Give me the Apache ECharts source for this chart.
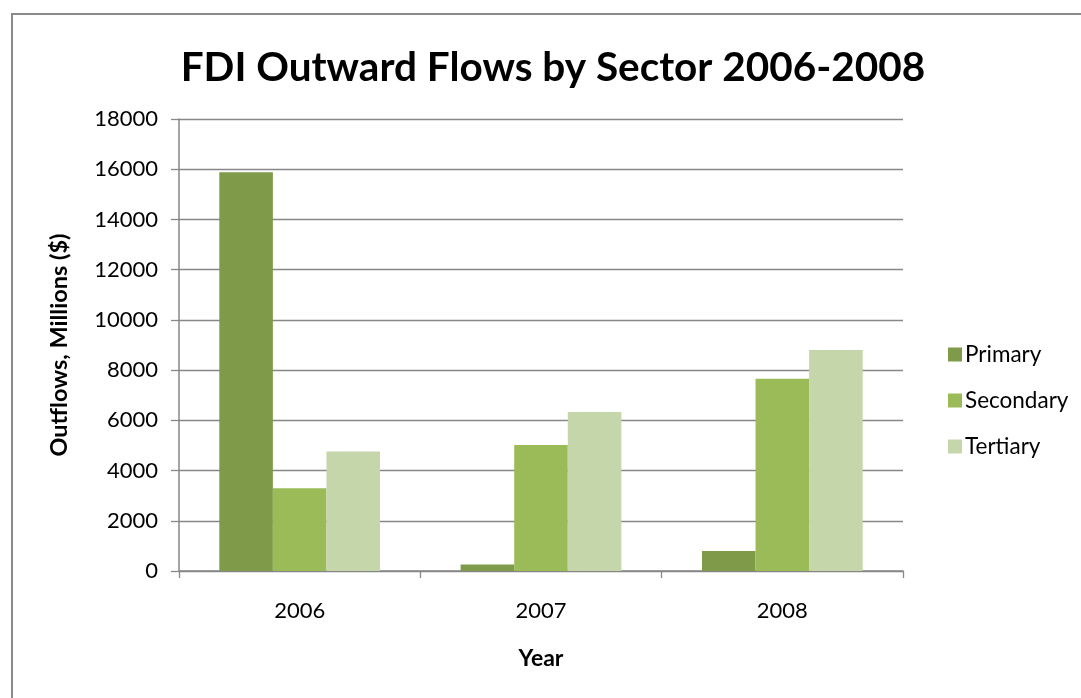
<!DOCTYPE html>
<html>
<head>
<meta charset="utf-8">
<script src="https://cdn.jsdelivr.net/npm/echarts@6/dist/echarts.min.js"></script>
<style>
html,body{margin:0;padding:0;width:1081px;height:698px;overflow:hidden;background:#fff;}
#frame{position:absolute;left:11px;top:13px;width:1200px;height:800px;border:2px solid #8a8a8a;box-sizing:border-box;}
#chart{position:absolute;left:0;top:0;width:1081px;height:698px;}
</style>
</head>
<body>
<div id="frame"></div>
<div id="chart"></div>
<script>
const categories = ['2006', '2007', '2008'];
const primary = [15880, 260, 800];
const secondary = [3300, 5020, 7660];
const tertiary = [4760, 6330, 8800];
const yTicks = { min: 0, max: 18000, interval: 2000 };
const seriesNames = ['Primary', 'Secondary', 'Tertiary'];
const colors = ['#7F9A48', '#9BBB59', '#C6D6AB'];

const font = 'Lato';
const chart = echarts.init(document.getElementById('chart'));
const seriesData = [primary, secondary, tertiary];
chart.setOption({
  backgroundColor: 'transparent',
  animation: false,
  title: {
    text: 'FDI Outward Flows by Sector 2006-2008',
    left: 548, top: 42, textAlign: 'center',
    textStyle: { fontFamily: font, fontWeight: 'bold', fontSize: 40.5, color: '#000' }
  },
  legend: {
    orient: 'vertical', left: 943, top: 338,
    itemWidth: 14, itemHeight: 14, itemGap: 23,
    icon: 'rect',
    textStyle: { fontFamily: font, fontSize: 22.5, color: '#000', padding: [0, 0, 0, -2] },
    data: seriesNames
  },
  grid: { left: 179, right: 178, top: 119, bottom: 127, containLabel: false },
  xAxis: {
    type: 'category', data: categories,
    name: 'Year', nameLocation: 'middle', nameGap: 76,
    nameTextStyle: { fontFamily: font, fontWeight: 'bold', fontSize: 23, color: '#000' },
    axisLine: { lineStyle: { color: '#878787', width: 1.5 } },
    axisTick: { show: true, length: 7, lineStyle: { color: '#878787', width: 1.3 } },
    axisLabel: { fontFamily: font, fontSize: 22, color: '#000', margin: 29 }
  },
  yAxis: {
    type: 'value', min: yTicks.min, max: yTicks.max, interval: yTicks.interval,
    name: 'Outflows, Millions ($)', nameLocation: 'middle', nameGap: 108, nameRotate: 90,
    nameTextStyle: { fontFamily: font, fontWeight: 'bold', fontSize: 23.5, color: '#000' },
    axisLine: { show: true, lineStyle: { color: '#878787', width: 1.5 } },
    axisTick: { show: true, length: 8, lineStyle: { color: '#878787', width: 1.3 } },
    axisLabel: { fontFamily: font, fontSize: 22, color: '#000', margin: 21, formatter: v => String(v) },
    splitLine: { lineStyle: { color: '#878787', width: 1.3 } }
  },
  series: seriesNames.map((n, i) => ({
    name: n, type: 'bar', data: seriesData[i],
    barGap: '0%', barCategoryGap: '33.4%',
    itemStyle: { color: colors[i] }
  }))
});
</script>
</body>
</html>
